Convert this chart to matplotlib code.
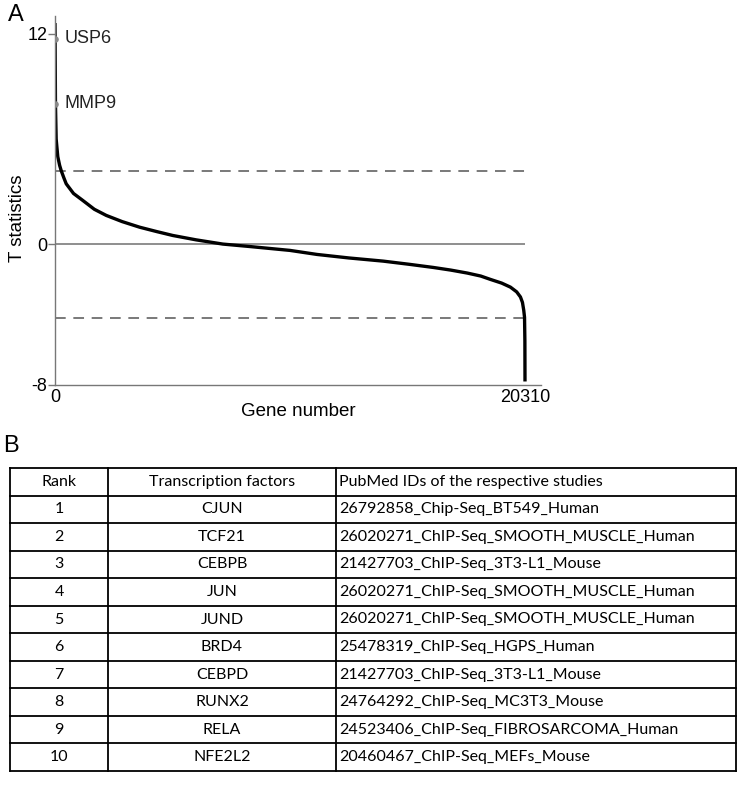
import matplotlib
matplotlib.use("Agg")
import matplotlib.pyplot as plt

# ---- Panel A data ----
gene_rank = [0, 5, 20, 50, 120, 200, 268, 380, 485, 800, 1204, 1700, 2217, 2900,
             3659, 4400, 5088, 6100, 7253, 8422, 10154, 11323, 12700, 14181, 15300,
             16346, 17100, 17818, 18400, 18814, 19300, 19680, 19950, 20113, 20200,
             20256, 20290, 20305, 20310]
t_stat = [12.6, 11.7, 8.0, 6.0, 5.0, 4.5, 4.2, 3.8, 3.45, 2.9, 2.5, 2.0, 1.65, 1.3,
          0.98, 0.73, 0.51, 0.26, 0.02, -0.12, -0.34, -0.57, -0.77, -0.95, -1.13,
          -1.31, -1.46, -1.63, -1.8, -1.99, -2.2, -2.43, -2.7, -2.99, -3.3,
          -3.75, -4.15, -5.5, -7.8]
highlight_genes = ["USP6", "MMP9"]
highlight_rank = [5, 20]
highlight_t = [11.7, 8.0]
threshold = 4.2
n_genes = 20310
y_ticks = [12, 0, -8]
x_ticks = [0, 20310]

# ---- Panel B data ----
ranks = ["1", "2", "3", "4", "5", "6", "7", "8", "9", "10"]
tfs = ["CJUN", "TCF21", "CEBPB", "JUN", "JUND", "BRD4", "CEBPD", "RUNX2", "RELA", "NFE2L2"]
studies = ["26792858_Chip-Seq_BT549_Human",
           "26020271_ChIP-Seq_SMOOTH_MUSCLE_Human",
           "21427703_ChIP-Seq_3T3-L1_Mouse",
           "26020271_ChIP-Seq_SMOOTH_MUSCLE_Human",
           "26020271_ChIP-Seq_SMOOTH_MUSCLE_Human",
           "25478319_ChIP-Seq_HGPS_Human",
           "21427703_ChIP-Seq_3T3-L1_Mouse",
           "24764292_ChIP-Seq_MC3T3_Mouse",
           "24523406_ChIP-Seq_FIBROSARCOMA_Human",
           "20460467_ChIP-Seq_MEFs_Mouse"]
headers = ["Rank", "Transcription factors", "PubMed IDs of the respective studies"]

W, H = 750, 800
fig = plt.figure(figsize=(7.5, 8), dpi=100)
chart_font = "Liberation Sans"
table_font = "Lato"

# ---- Panel A ----
ax_l, ax_r, ax_t, ax_b = 55, 541, 16, 385
ax = fig.add_axes([ax_l / W, 1 - ax_b / H, (ax_r - ax_l) / W, (ax_b - ax_t) / H])
ax.set_xlim(0, n_genes * (ax_r - ax_l) / (525 - ax_l))
ax.set_ylim(-8, 13)
for s in ["top", "right"]:
    ax.spines[s].set_visible(False)
for s in ["left", "bottom"]:
    ax.spines[s].set_color("#777777")
    ax.spines[s].set_linewidth(1.0)

ax.hlines(0, 0, n_genes, color="#707070", lw=1.1)
ax.hlines([threshold, -threshold], 0, n_genes, color="#555555", lw=1.1,
          linestyles=(0, (7, 5)))
ax.plot(gene_rank, t_stat, color="black", lw=2.4, solid_joinstyle="round",
        solid_capstyle="butt")
ax.scatter(highlight_rank, highlight_t, s=14, color="#8a8a8a", zorder=3)
for g, r, t in zip(highlight_genes, highlight_rank, highlight_t):
    ax.text(r + 400, t, g, fontsize=13, family=chart_font, va="center", ha="left",
            color="#222222")

ax.set_yticks(y_ticks)
ax.set_yticklabels([str(v) for v in y_ticks], family=chart_font, fontsize=13)
ax.set_xticks(x_ticks)
ax.set_xticklabels([str(v) for v in x_ticks], family=chart_font, fontsize=13)
ax.tick_params(axis="y", length=5, width=1, color="#777777", pad=0.5)
ax.tick_params(axis="x", length=0, pad=3)
ax.set_ylabel("T statistics", family=chart_font, fontsize=13.5)
ax.yaxis.label.set_va("center")
ax.yaxis.set_label_coords((18 - ax_l) / (ax_r - ax_l), (ax_b - 218) / (ax_b - ax_t))
ax.set_xlabel("Gene number", family=chart_font, fontsize=13.5, labelpad=-2)
fig.text(8 / W, 1 - 15 / H, "A", family=chart_font, fontsize=17, va="center", ha="left")
fig.text(3 / W, 1 - 446 / H, "B", family=chart_font, fontsize=17, va="center", ha="left")

# ---- Panel B: table ----
tax = fig.add_axes([0, 0, 1, 1])
tax.set_xlim(0, W)
tax.set_ylim(H, 0)
tax.axis("off")
col_x = [10, 108, 336, 736]
top, bottom = 468, 771
nrows = len(ranks) + 1
rh = (bottom - top) / nrows
lw_t = 1.3
for i in range(nrows + 1):
    y = top + i * rh
    tax.plot([col_x[0], col_x[-1]], [y, y], color="black", lw=lw_t, solid_capstyle="projecting")
for x in col_x:
    tax.plot([x, x], [top, bottom], color="black", lw=lw_t, solid_capstyle="projecting")

rows = [headers] + [[r, t, s] for r, t, s in zip(ranks, tfs, studies)]
fs = 11.5
for i, row in enumerate(rows):
    yc = top + (i + 0.5) * rh
    tax.text((col_x[0] + col_x[1]) / 2, yc, row[0], ha="center", va="center",
             family=table_font, fontsize=fs)
    tax.text((col_x[1] + col_x[2]) / 2, yc, row[1], ha="center", va="center",
             family=table_font, fontsize=fs)
    tax.text(col_x[2] + 3, yc, row[2], ha="left", va="center",
             family=table_font, fontsize=fs)

fig.savefig("out.png", dpi=100)
